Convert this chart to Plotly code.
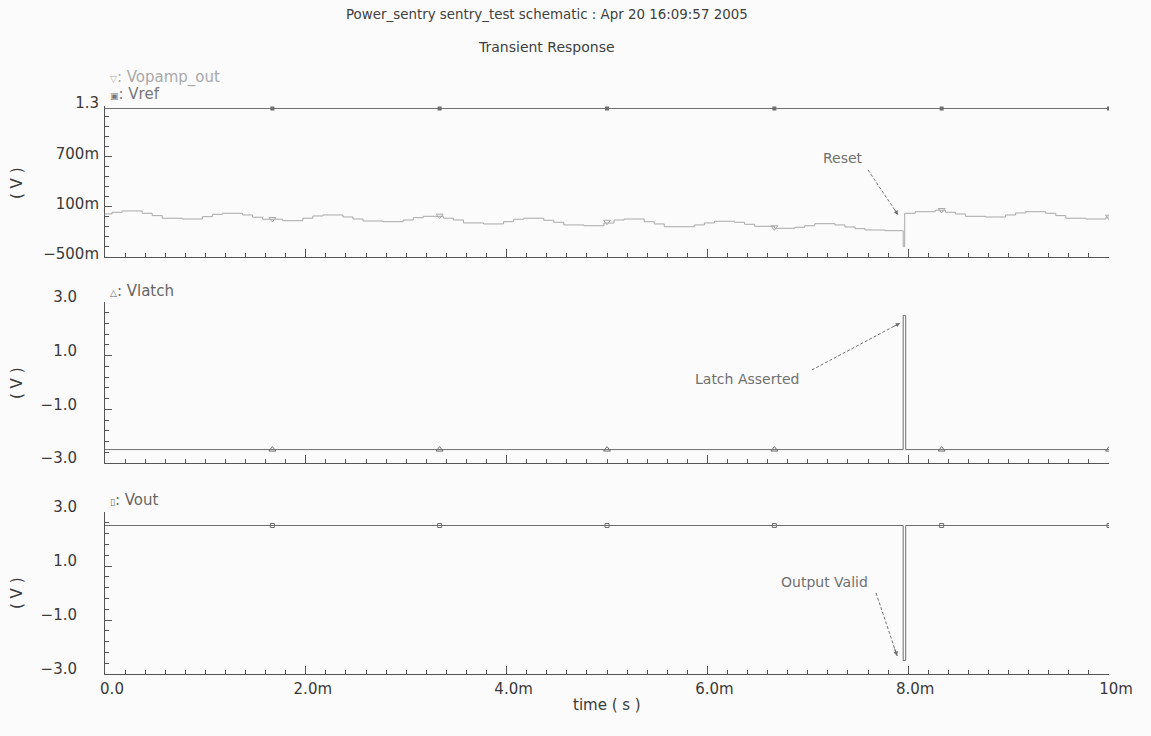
import plotly.graph_objects as go
from plotly.subplots import make_subplots

# ---------------- data (time in ms, voltages in V) ----------------
opamp_t = [0.00, 0.07, 0.17, 0.37, 0.47, 0.57, 0.77, 0.97, 1.07, 1.17,
           1.37, 1.47, 1.57, 1.77, 1.97, 2.07, 2.17, 2.37, 2.47, 2.57,
           2.77, 2.97, 3.07, 3.17, 3.37, 3.47, 3.57, 3.77, 3.97, 4.07,
           4.17, 4.37, 4.47, 4.57, 4.77, 4.97, 5.07, 5.17, 5.37, 5.47,
           5.57, 5.87, 5.97, 6.07, 6.27, 6.37, 6.47, 6.67, 6.87, 6.97,
           7.07, 7.27, 7.37, 7.47, 7.57, 7.77, 7.95, 7.965, 8.07, 8.27,
           8.37, 8.47, 8.57, 8.77, 8.97, 9.07, 9.17, 9.37, 9.47, 9.57,
           9.77, 9.97, 10.0]
opamp_v = [0.013, 0.033, 0.049, 0.021, -0.007, -0.038, -0.047, -0.019, 0.009, 0.021,
           0.001, -0.026, -0.050, -0.067, -0.038, -0.011, 0.001, -0.023, -0.047, -0.071,
           -0.079, -0.059, -0.031, -0.015, -0.038, -0.059, -0.094, -0.106, -0.079, -0.050,
           -0.038, -0.062, -0.086, -0.118, -0.127, -0.095, -0.059, -0.047, -0.079, -0.106,
           -0.139, -0.118, -0.094, -0.074, -0.086, -0.110, -0.134, -0.158, -0.146, -0.127,
           -0.103, -0.118, -0.142, -0.162, -0.178, -0.186, -0.377, 0.021, 0.040, 0.057,
           0.033, 0.013, -0.015, -0.023, 0.001, 0.025, 0.040, 0.021, -0.007, -0.038,
           -0.047, -0.023, -0.023]

vref_t = [0.0, 10.0]
vref_v = [1.27, 1.27]

latch_t = [0.0, 7.95, 7.975, 10.0]
latch_v = [-2.5, 2.5, -2.5, -2.5]

vout_t = [0.0, 7.95, 7.975, 10.0]
vout_v = [2.5, -2.5, 2.5, 2.5]

marker_t = [1.667, 3.333, 5.0, 6.667, 8.333, 10.0]
opamp_marker_v = [-0.047, -0.007, -0.080, -0.146, 0.060, -0.020]
vref_marker_v = [1.27, 1.27, 1.27, 1.27, 1.27, 1.27]
latch_marker_v = [-2.5, -2.5, -2.5, -2.5, -2.5, -2.5]
vout_marker_v = [2.5, 2.5, 2.5, 2.5, 2.5, 2.5]

x_tickvals = [0, 2, 4, 6, 8, 10]
x_ticktext = ["0.0", "2.0m", "4.0m", "6.0m", "8.0m", "10m"]
y1_tickvals = [-0.5, 0.1, 0.7, 1.3]
y1_ticktext = ["\u2212500m", "100m", "700m", "1.3"]
y23_tickvals = [-3, -1, 1, 3]
y23_ticktext = ["\u22123.0", "\u22121.0", "1.0", "3.0"]

# ---------------- styling ----------------
W, H = 1151, 736
L, R = 105, 42
BG = "#fbfbfb"
AX = "#555555"
TXT = "#3a3a3a"
FONT = "DejaVu Sans"
C_OPAMP = "#a9a9a9"
C_REF = "#6e6e6e"
C_LATCH = "#6e6e6e"
C_OUT = "#6e6e6e"
C_ANN = "#707070"


def px(x):
    return (x - L) / (W - L - R)


def py(y):
    return 1 - y / H


fig = make_subplots(rows=3, cols=1)

# panel 1
fig.add_trace(go.Scatter(x=vref_t, y=vref_v, mode="lines",
                         line=dict(color=C_REF, width=1), name="Vref"), row=1, col=1)
fig.add_trace(go.Scatter(x=opamp_t, y=opamp_v, mode="lines", line_shape="hv",
                         line=dict(color=C_OPAMP, width=1), name="Vopamp_out"), row=1, col=1)
fig.add_trace(go.Scatter(x=marker_t, y=vref_marker_v, mode="markers",
                         marker=dict(symbol="square", size=4, color=C_REF)), row=1, col=1)
fig.add_trace(go.Scatter(x=marker_t, y=opamp_marker_v, mode="markers",
                         marker=dict(symbol="triangle-down-open", size=6, color=C_OPAMP,
                                     line=dict(width=1, color=C_OPAMP))), row=1, col=1)
# panel 2
fig.add_trace(go.Scatter(x=latch_t, y=latch_v, mode="lines", line_shape="hv",
                         line=dict(color=C_LATCH, width=1), name="Vlatch"), row=2, col=1)
fig.add_trace(go.Scatter(x=marker_t, y=latch_marker_v, mode="markers",
                         marker=dict(symbol="triangle-up-open", size=6, color=C_LATCH,
                                     line=dict(width=1, color=C_LATCH))), row=2, col=1)
# panel 3
fig.add_trace(go.Scatter(x=vout_t, y=vout_v, mode="lines", line_shape="hv",
                         line=dict(color=C_OUT, width=1), name="Vout"), row=3, col=1)
fig.add_trace(go.Scatter(x=marker_t, y=vout_marker_v, mode="markers",
                         marker=dict(symbol="square-open", size=4, color=C_OUT,
                                     line=dict(width=1, color=C_OUT))), row=3, col=1)

tickfont = dict(family=FONT, size=15, color=TXT)

xcommon = dict(range=[0, 10], domain=[0, 1], showline=True, linecolor=AX, linewidth=1,
               ticks="inside", ticklen=8, tickcolor=AX, tickwidth=1,
               tickmode="array", tickvals=x_tickvals, ticktext=x_ticktext,
               showgrid=False, zeroline=False, tickfont=tickfont,
               ticklabelshift=7, ticklabelstandoff=1, automargin=False,
               minor=dict(ticks="inside", ticklen=4, tickcolor=AX, tickwidth=1,
                          dtick=0.2, tick0=0, showgrid=False))

fig.update_xaxes(**xcommon)
fig.update_xaxes(showticklabels=False, row=1, col=1)
fig.update_xaxes(showticklabels=False, row=2, col=1)

ycommon = dict(showline=True, linecolor=AX, linewidth=1, ticks="inside", ticklen=7,
               tickcolor=AX, tickwidth=1, showgrid=False, zeroline=False,
               tickfont=tickfont, tickmode="array", ticklabelshift=-5, automargin=False)

fig.update_yaxes(**ycommon)
fig.update_yaxes(range=[-0.5, 1.3], domain=[py(257), py(106)],
                 tickvals=y1_tickvals, ticktext=y1_ticktext, ticklabelstandoff=2,
                 ticklabelshift=-3,
                 minor=dict(ticks="inside", ticklen=4, tickcolor=AX, dtick=0.12, tick0=-0.5,
                            showgrid=False), row=1, col=1)
fig.update_yaxes(range=[-3, 3], domain=[py(463), py(302)],
                 tickvals=y23_tickvals, ticktext=y23_ticktext, ticklabelstandoff=24,
                 minor=dict(ticks="inside", ticklen=4, tickcolor=AX, dtick=0.4, tick0=-3,
                            showgrid=False), row=2, col=1)
fig.update_yaxes(range=[-3, 3], domain=[py(674), py(512)],
                 tickvals=y23_tickvals, ticktext=y23_ticktext, ticklabelstandoff=24,
                 minor=dict(ticks="inside", ticklen=4, tickcolor=AX, dtick=0.4, tick0=-3,
                            showgrid=False), row=3, col=1)

annotations = []


def text_ann(x, y, text, size=14, color=TXT, xanchor="center", angle=0):
    annotations.append(dict(x=px(x), y=py(y), xref="paper", yref="paper", text=text,
                            showarrow=False, xanchor=xanchor, yanchor="middle",
                            textangle=angle,
                            font=dict(family=FONT, size=size, color=color)))


text_ann(547, 15, "Power_sentry sentry_test schematic : Apr 20 16:09:57 2005", 13.4, "#404040")
text_ann(546, 47, "Transient Response", 14, "#404040")

sym = "<span style='font-size:9px'>%s</span>: %s"
text_ann(108, 77, sym % ("\u25bd", "Vopamp_out"), 15, C_OPAMP, "left")
text_ann(108, 94, sym % ("\u25a3", "Vref"), 15, "#777777", "left")
text_ann(108, 291, sym % ("\u25b3", "Vlatch"), 15, "#666666", "left")
text_ann(108, 500, sym % ("\u25af", "Vout"), 15, "#666666", "left")

for yc in (183, 383, 593):
    text_ann(17, yc, "( V )", 15, TXT, "center", -90)
text_ann(607, 705, "time ( s )", 15, TXT)

# callouts: text, dashed leader, arrow head (data coordinates)
callouts = [
    # text, text_t, text_v, start_t, start_v, tip_t, tip_v, xref, yref, head offset (px)
    ("Reset", 7.35, 0.68, 7.60, 0.537, 7.90, 0.0, "x", "y", (-4.5, -7)),
    ("Latch Asserted", 6.39, 0.13, 7.04, 0.466, 7.92, 2.218, "x2", "y2", (-8, 4.3)),
    ("Output Valid", 7.17, 0.41, 7.68, 0.0, 7.89, -2.333, "x3", "y3", (-3, -9)),
]
shapes = []
for text, tt, tv, st, sv, et, ev, xr, yr, (hx, hy) in callouts:
    annotations.append(dict(x=tt, y=tv, xref=xr, yref=yr, text=text, showarrow=False,
                            font=dict(family=FONT, size=14, color=C_ANN)))
    shapes.append(dict(type="line", x0=st, y0=sv, x1=et, y1=ev, xref=xr, yref=yr,
                       line=dict(color=C_ANN, width=1, dash="3px,2px")))
    annotations.append(dict(x=et, y=ev, xref=xr, yref=yr, text="", showarrow=True,
                            ax=hx, ay=hy, arrowhead=2, arrowsize=0.9, arrowwidth=1,
                            arrowcolor=C_ANN))

fig.update_layout(width=W, height=H, margin=dict(l=L, r=R, t=0, b=0, autoexpand=False),
                  paper_bgcolor=BG, plot_bgcolor=BG, showlegend=False,
                  font=dict(family=FONT, color=TXT),
                  annotations=annotations, shapes=shapes)

fig.write_html("out.html")
